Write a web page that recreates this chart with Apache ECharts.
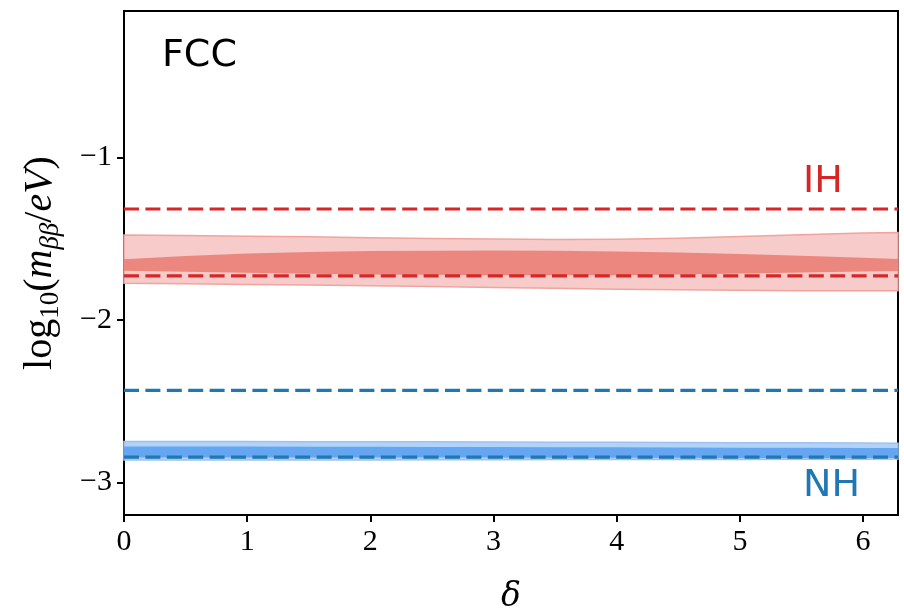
<!DOCTYPE html>
<html>
<head>
<meta charset="utf-8">
<script src="https://cdn.jsdelivr.net/npm/echarts@6/dist/echarts.min.js"></script>
<style>html,body{margin:0;padding:0;background:#fff}#c{width:904px;height:613px}</style>
</head>
<body>
<div id="c"></div>
<script>
const X_MAX = 6.2832;
const delta = [0, 0.5, 1, 1.5, 2, 2.5, 3, 3.5, 4, 4.5, 5, 5.5, 6, 6.2832];
const ihOuterUpper = [-1.478,-1.481,-1.485,-1.489,-1.494,-1.499,-1.503,-1.505,-1.504,-1.498,-1.487,-1.476,-1.466,-1.462];
const ihOuterLower = [-1.775,-1.778,-1.782,-1.786,-1.790,-1.795,-1.800,-1.806,-1.811,-1.815,-1.818,-1.820,-1.820,-1.820];
const ihInnerUpper = [-1.627,-1.607,-1.592,-1.582,-1.576,-1.574,-1.573,-1.575,-1.579,-1.586,-1.595,-1.606,-1.618,-1.625];
const ihInnerLower = [-1.697,-1.704,-1.710,-1.716,-1.720,-1.723,-1.725,-1.726,-1.725,-1.721,-1.715,-1.709,-1.702,-1.699];
const nhOuterUpper = [-2.748,-2.748,-2.748,-2.749,-2.749,-2.750,-2.751,-2.752,-2.753,-2.754,-2.755,-2.756,-2.757,-2.758];
const nhInnerUpper = [-2.779,-2.779,-2.779,-2.780,-2.780,-2.781,-2.782,-2.783,-2.784,-2.785,-2.786,-2.787,-2.788,-2.788];
const nhInnerLower = [-2.846,-2.846,-2.846,-2.846,-2.847,-2.847,-2.847,-2.848,-2.848,-2.848,-2.849,-2.849,-2.850,-2.850];
const nhOuterLower = [-2.862,-2.862,-2.862,-2.861,-2.861,-2.860,-2.860,-2.859,-2.859,-2.858,-2.858,-2.857,-2.857,-2.856];
const ihLimits = [-1.318, -1.729];
const nhLimits = [-2.434, -2.844];
const xTicks = [0, 1, 2, 3, 4, 5, 6];
const yTicks = [-3, -2, -1];

function band(upper, lower, fill, stroke) {
  return {
    type: 'custom',
    silent: true,
    data: [[delta[0], upper[0]]],
    renderItem: function (params, api) {
      const pts = [];
      for (let i = 0; i < delta.length; i++) pts.push(api.coord([delta[i], upper[i]]));
      for (let i = delta.length - 1; i >= 0; i--) pts.push(api.coord([delta[i], lower[i]]));
      return {
        type: 'polygon',
        shape: { points: pts },
        style: { fill: fill, stroke: stroke, lineWidth: stroke ? 1.5 : 0 }
      };
    }
  };
}
function hline(v, color) {
  return {
    type: 'line', silent: true, symbol: 'none',
    data: [[0, v], [X_MAX, v]],
    lineStyle: { color: color, width: 3.2, type: [15, 6.4] },
    z: 5
  };
}
const minus = v => (v < 0 ? '\u2212' + Math.abs(v) : String(v));

const chart = echarts.init(document.getElementById('c'), null, { renderer: 'canvas' });
chart.setOption({
  animation: false,
  backgroundColor: '#fff',
  grid: { left: 124, right: 6, top: 11, bottom: 98, containLabel: false, outerBoundsMode: 'none', show: true, borderColor: '#000', borderWidth: 2, backgroundColor: 'transparent' },
  xAxis: {
    type: 'value', min: 0, max: X_MAX,
    name: 'δ', nameLocation: 'middle', nameGap: 66,
    nameTextStyle: { fontFamily: 'DejaVu Serif', fontStyle: 'italic', fontSize: 33, color: '#000' },
    axisLine: { show: true, lineStyle: { color: '#000', width: 2 } },
    axisTick: { show: true, length: 7, customValues: xTicks, lineStyle: { color: '#000', width: 2 } },
    axisLabel: { customValues: xTicks, margin: 12, fontFamily: 'Liberation Serif', fontSize: 30, color: '#000', formatter: minus },
    splitLine: { show: false }
  },
  yAxis: {
    type: 'value', min: -3.2, max: -0.1,
    name: '{a|log}{sub|10}{a|(}{i|m}{subi|ββ}{a|/}{i|eV}{a|)}',
    nameLocation: 'middle', nameGap: 60, nameRotate: 90,
    nameTextStyle: {
      color: '#000',
      rich: {
        a: { fontFamily: 'Liberation Serif', fontSize: 40, color: '#000' },
        i: { fontFamily: 'Liberation Serif', fontStyle: 'italic', fontSize: 40, color: '#000' },
        sub: { fontFamily: 'Liberation Serif', fontSize: 27, color: '#000', padding: [20, 0, 0, 0] },
        subi: { fontFamily: 'Liberation Serif', fontStyle: 'italic', fontSize: 27, color: '#000', padding: [20, 0, 0, 0] }
      }
    },
    axisLine: { show: true, lineStyle: { color: '#000', width: 2 } },
    axisTick: { show: true, length: 7, customValues: yTicks, lineStyle: { color: '#000', width: 2 } },
    axisLabel: { customValues: yTicks, margin: 12, fontFamily: 'Liberation Serif', fontSize: 30, color: '#000', formatter: minus },
    splitLine: { show: false }
  },
  graphic: [
    { type: 'text', left: 162, top: 37, style: { text: 'FCC', font: '38px "DejaVu Sans"', fill: '#000' } },
    { type: 'text', left: 803, top: 163, style: { text: 'IH', font: '38px "DejaVu Sans"', fill: '#d62728' } },
    { type: 'text', left: 803, top: 467, style: { text: 'NH', font: '38px "DejaVu Sans"', fill: '#1f77b4' } }
  ],
  series: [
    band(ihOuterUpper, ihOuterLower, '#f6cbc9', '#f0a49f'),
    band(ihInnerUpper, ihInnerLower, '#ec877f', null),
    band(nhOuterUpper, nhOuterLower, '#b2d2f7', '#9cc3f0'),
    band(nhInnerUpper, nhInnerLower, '#64a6f1', null),
    hline(ihLimits[0], '#d62728'),
    hline(ihLimits[1], '#d62728'),
    hline(nhLimits[0], '#1f77b4'),
    hline(nhLimits[1], '#1f77b4')
  ]
});
</script>
</body>
</html>
